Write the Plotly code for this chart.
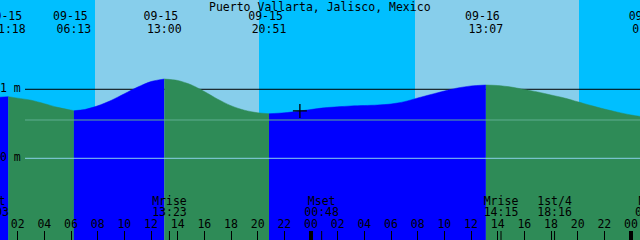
import plotly.graph_objects as go

# ---------------- data ----------------
tide_times = [
    "2000-09-15 00:00", "2000-09-15 01:18", "2000-09-15 02:00", "2000-09-15 03:00",
    "2000-09-15 04:00", "2000-09-15 05:00", "2000-09-15 06:13", "2000-09-15 07:00",
    "2000-09-15 08:00", "2000-09-15 09:00", "2000-09-15 10:00", "2000-09-15 11:00",
    "2000-09-15 12:00", "2000-09-15 13:00", "2000-09-15 14:00", "2000-09-15 15:00",
    "2000-09-15 16:00", "2000-09-15 17:00", "2000-09-15 18:00", "2000-09-15 19:00",
    "2000-09-15 20:00", "2000-09-15 20:51", "2000-09-15 22:00", "2000-09-15 23:00",
    "2000-09-16 00:00", "2000-09-16 01:00", "2000-09-16 02:00", "2000-09-16 03:00",
    "2000-09-16 04:00", "2000-09-16 05:00", "2000-09-16 06:00", "2000-09-16 07:00",
    "2000-09-16 08:00", "2000-09-16 09:00", "2000-09-16 10:00", "2000-09-16 11:00",
    "2000-09-16 12:00", "2000-09-16 13:07", "2000-09-16 14:00", "2000-09-16 15:00",
    "2000-09-16 16:00", "2000-09-16 17:00", "2000-09-16 18:00", "2000-09-16 19:00",
    "2000-09-16 20:00", "2000-09-16 21:00", "2000-09-16 22:00", "2000-09-16 23:00",
    "2000-09-17 00:00", "2000-09-17 01:00", "2000-09-17 01:23",
]
tide_heights = [
    0.877, 0.893, 0.872, 0.842,
    0.792, 0.738, 0.690, 0.706,
    0.760, 0.838, 0.935, 1.032,
    1.112, 1.149, 1.128, 1.066,
    0.968, 0.857, 0.762, 0.697,
    0.660, 0.646, 0.659, 0.681,
    0.707, 0.732, 0.746, 0.758,
    0.765, 0.772, 0.787, 0.820,
    0.874, 0.925, 0.975, 1.019,
    1.048, 1.062, 1.055, 1.033,
    0.997, 0.961, 0.917, 0.874,
    0.819, 0.765, 0.714, 0.668,
    0.628, 0.599, 0.595,
]

# high / low tide events (label rows)
event_stamps = ["2000-09-15 01:18", "2000-09-15 06:13", "2000-09-15 13:00",
                "2000-09-15 20:51", "2000-09-16 13:07", "2000-09-17 01:23"]
event_dates = ["09-15", "09-15", "09-15", "09-15", "09-16", "09-17"]
event_clock = ["01:18", "06:13", "13:00", "20:51", "13:07", "01:23"]

# moon events
moon_stamps = ["2000-09-15 00:03", "2000-09-15 13:23", "2000-09-16 00:48",
               "2000-09-16 14:15", "2000-09-16 18:16", "2000-09-17 01:36"]
moon_names = ["Mset", "Mrise", "Mset", "Mrise", "1st/4", "Mset"]
moon_clock = ["00:03", "13:23", "00:48", "14:15", "18:16", "01:36"]

# sun
sunrise = ["2000-09-15 07:48", "2000-09-16 07:48"]
sunset = ["2000-09-15 20:06", "2000-09-16 20:06"]

midnights = ["2000-09-16 00:00", "2000-09-17 00:00"]

mean_level = 0.555
now_time = ["2000-09-15 23:10"]
now_height = [0.686]

y_tickvals = [0, 1]
y_ticktext = ["0 m", "1 m"]

title_text = "Puerto Vallarta, Jalisco, Mexico"

# ---------------- style ----------------
W, H = 640, 240
X_RANGE = ["2000-09-15 00:40:30", "2000-09-17 00:40:30"]
Y_RANGE = [-1.184, 2.294]
FONT = dict(family="DejaVu Sans Mono", size=11.5, color="black")
NIGHT = "#00BFFF"
DAY = "#87CEEB"
FLOOD = "#0000FF"
EBB = "#2E8B57"


def y_at_px(p):
    return Y_RANGE[1] - p * (Y_RANGE[1] - Y_RANGE[0]) / H


fig = go.Figure()

# fills: split the curve at turning points
turn_idx = [0] + [tide_times.index(s) for s in event_stamps]
for a, b in zip(turn_idx[:-1], turn_idx[1:]):
    seg_t = tide_times[a:b + 1]
    seg_h = tide_heights[a:b + 1]
    col = FLOOD if seg_h[-1] > seg_h[0] else EBB
    fig.add_trace(go.Scatter(x=[seg_t[0], seg_t[-1]], y=[Y_RANGE[0], Y_RANGE[0]],
                             mode="lines", line=dict(width=0), hoverinfo="skip",
                             showlegend=False))
    fig.add_trace(go.Scatter(x=seg_t, y=seg_h, mode="lines",
                             line=dict(width=0.5, color=col, shape="spline", smoothing=0.8),
                             fill="tonexty", fillcolor=col, hoverinfo="skip",
                             showlegend=False))

# current-time mark
fig.add_trace(go.Scatter(x=now_time, y=now_height, mode="markers",
                         marker=dict(symbol="cross-thin", size=10,
                                     line=dict(width=1.3, color="black")),
                         hoverinfo="skip", showlegend=False))

# height labels at the left edge
fig.add_trace(go.Scatter(x=[X_RANGE[0]] * len(y_tickvals), y=y_tickvals,
                         text=y_ticktext, mode="text", textposition="middle right",
                         textfont=FONT, hoverinfo="skip", showlegend=False))

# tide labels (text traces so partial labels at edges are clipped like the original)
fig.add_trace(go.Scatter(x=event_stamps, y=[y_at_px(17)] * len(event_stamps),
                         text=[d + "\u00a0" for d in event_dates], mode="text",
                         textfont=FONT, hoverinfo="skip", showlegend=False))
fig.add_trace(go.Scatter(x=event_stamps, y=[y_at_px(30)] * len(event_stamps),
                         text=event_clock, mode="text",
                         textfont=FONT, hoverinfo="skip", showlegend=False))
# moon labels
fig.add_trace(go.Scatter(x=moon_stamps, y=[y_at_px(202)] * len(moon_stamps),
                         text=moon_names, mode="text",
                         textfont=FONT, hoverinfo="skip", showlegend=False))
fig.add_trace(go.Scatter(x=moon_stamps, y=[y_at_px(213.5)] * len(moon_stamps),
                         text=moon_clock, mode="text",
                         textfont=FONT, hoverinfo="skip", showlegend=False))

shapes = []
for r, s in zip(sunrise, sunset):
    shapes.append(dict(type="rect", xref="x", yref="paper", x0=r, x1=s, y0=0, y1=1,
                       fillcolor=DAY, line=dict(width=0), layer="below"))
# 1 m reference line (under the water)
shapes.append(dict(type="line", xref="paper", yref="y", x0=25 / W, x1=1,
                   y0=y_tickvals[1], y1=y_tickvals[1],
                   line=dict(color="black", width=1), layer="below"))
# mean level and datum lines (over the water)
shapes.append(dict(type="line", xref="paper", yref="y", x0=25 / W, x1=1,
                   y0=mean_level, y1=mean_level,
                   line=dict(color="#5FAE92", width=1), layer="above"))
shapes.append(dict(type="line", xref="paper", yref="y", x0=25 / W, x1=1,
                   y0=y_tickvals[0], y1=y_tickvals[0],
                   line=dict(color="#8AD0EA", width=1), layer="above"))
# midnight ticks (thick) and moon-event ticks
for m in midnights:
    shapes.append(dict(type="line", xref="x", yref="paper", x0=m, x1=m, y0=0, y1=9 / H,
                       line=dict(color="black", width=4), layer="above"))
for m in moon_stamps:
    shapes.append(dict(type="line", xref="x", yref="paper", x0=m, x1=m, y0=0, y1=9 / H,
                       line=dict(color="black", width=1), layer="above"))

fig.update_layout(
    width=W, height=H,
    margin=dict(l=0, r=0, t=0, b=0),
    paper_bgcolor=NIGHT, plot_bgcolor=NIGHT,
    showlegend=False, hovermode=False,
    shapes=shapes,
    font=FONT,
    annotations=[dict(text=title_text, xref="paper", yref="paper", x=0.5, y=1,
                      xanchor="center", yanchor="top", yshift=2, showarrow=False,
                      font=FONT)],
    xaxis=dict(type="date", range=X_RANGE, tick0="2000-09-15 00:00", dtick=7200000,
               tickformat="%H", ticks="inside", ticklen=9, tickwidth=1, tickcolor="black",
               ticklabelposition="inside", tickfont=FONT, showgrid=False,
               zeroline=False, showline=False, fixedrange=True),
    yaxis=dict(range=Y_RANGE, showticklabels=False, ticks="", showgrid=False,
               zeroline=False, showline=False, fixedrange=True),
)

fig.write_html("out.html", config={"displayModeBar": False})
